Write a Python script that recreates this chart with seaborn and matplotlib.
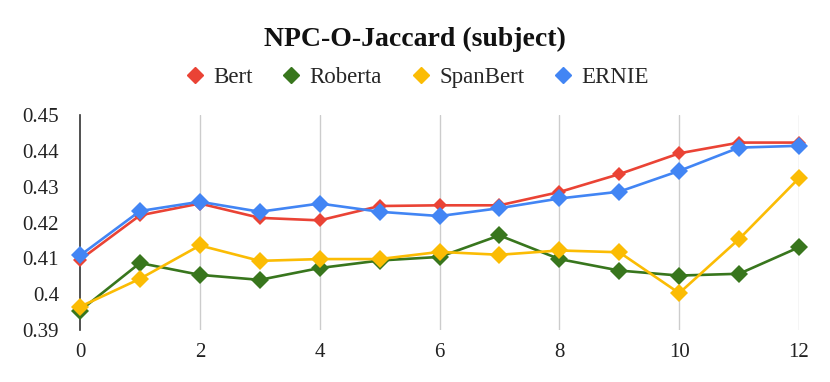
import pandas as pd
import matplotlib.pyplot as plt
import seaborn as sns
from matplotlib.lines import Line2D

layers = list(range(13))
bert = [0.4096, 0.4220, 0.4253, 0.4213, 0.4206, 0.4246, 0.4248, 0.4248, 0.4285, 0.4335, 0.4393, 0.4423, 0.4423]
roberta = [0.3954, 0.4087, 0.4054, 0.4040, 0.4073, 0.4094, 0.4104, 0.4164, 0.4098, 0.4066, 0.4052, 0.4057, 0.4131]
spanbert = [0.3965, 0.4043, 0.4136, 0.4093, 0.4098, 0.4098, 0.4118, 0.4110, 0.4122, 0.4117, 0.4003, 0.4154, 0.4324]
ernie = [0.4108, 0.4232, 0.4258, 0.4230, 0.4253, 0.4230, 0.4218, 0.4240, 0.4267, 0.4286, 0.4344, 0.4409, 0.4414]

names = ['Bert', 'Roberta', 'SpanBert', 'ERNIE']
colors = ['#EA4335', '#38761D', '#FBBC04', '#4285F4']
sizes = [7, 9, 9, 9]

sns.set_style('white')
plt.rcParams['font.family'] = ['Liberation Serif', 'DejaVu Serif']

fig = plt.figure(figsize=(8.3, 3.82), dpi=100)
ax = fig.add_axes([0.0964, 0.136, 0.8663, 0.563])

for name, vals, c, ms in zip(names, [bert, roberta, spanbert, ernie], colors, sizes):
    df = pd.DataFrame({'layer': layers, 'score': vals})
    sns.lineplot(data=df, x='layer', y='score', ax=ax, color=c, linewidth=1.9,
                 marker='D', markersize=ms, markeredgewidth=0, clip_on=False, zorder=3)

ax.set_xlim(0, 12)
ax.set_ylim(0.39, 0.45)
ax.set_xticks(range(0, 13, 2))
ax.set_yticks([0.39, 0.40, 0.41, 0.42, 0.43, 0.44, 0.45])
ax.set_yticklabels(['0.39', '0.4', '0.41', '0.42', '0.43', '0.44', '0.45'])
ax.set_xlabel('')
ax.set_ylabel('')
ax.tick_params(axis='both', length=0, labelsize=15, colors='#222222')
ax.tick_params(axis='y', pad=15)
ax.tick_params(axis='x', pad=9)

for x in range(2, 13, 2):
    ax.axvline(x, color='#cccccc', linewidth=1, zorder=1)
for s in ['top', 'right', 'bottom']:
    ax.spines[s].set_visible(False)
ax.spines['left'].set_color('#333333')
ax.spines['left'].set_linewidth(1.2)

fig.text(0.5, 0.897, 'NPC-O-Jaccard (subject)', ha='center', va='center',
         fontsize=20, fontweight='bold', color='#111111')

handles = [Line2D([], [], linestyle='none', marker='D', markersize=8, color=c) for c in colors]
fig.legend(handles, names, loc='center', bbox_to_anchor=(0.5, 0.797), ncol=4, frameon=False,
           fontsize=16.5, handletextpad=0.2, columnspacing=1.1, handlelength=1.2)

fig.savefig('out.png', dpi=100)
